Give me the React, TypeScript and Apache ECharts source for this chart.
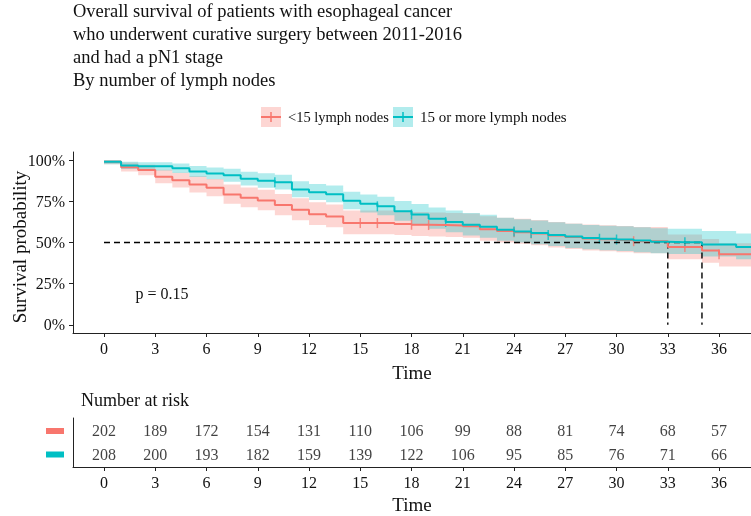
import { useEffect, useRef } from "react";
import * as echarts from "echarts";

// ---- data ----
const times = [0, 1, 2, 3, 4, 5, 6, 7, 8, 9, 10, 11, 12, 13, 14, 15, 16, 17, 18, 19, 20, 21, 22, 23, 24, 25, 26, 27, 28, 29, 30, 31, 32, 33, 34, 35, 36, 37, 37.9];

const redSurv = [99.0, 95.8, 94.0, 90.0, 87.8, 85.2, 83.2, 79.2, 77.2, 75.6, 72.8, 69.9, 67.2, 65.8, 61.8, 61.8, 61.8, 61.3, 60.8, 60.6, 60.3, 59.8, 58.0, 57.0, 56.3, 55.4, 54.2, 53.3, 52.5, 52.0, 51.5, 50.8, 50.8, 47.2, 47.2, 45.1, 42.9, 42.9, 42.9];
const redLower = [97.5, 93.1, 90.8, 86.0, 83.4, 80.4, 78.1, 73.6, 71.4, 69.6, 66.6, 63.5, 60.7, 59.2, 55.0, 55.0, 55.0, 54.5, 54.0, 53.7, 53.4, 52.9, 51.0, 50.0, 49.2, 48.3, 47.0, 46.1, 45.2, 44.7, 44.1, 43.4, 43.4, 39.8, 39.8, 37.7, 35.4, 35.4, 35.4];
const redUpper = [100, 98.6, 97.3, 94.2, 92.4, 90.3, 88.6, 85.2, 83.4, 82.0, 79.5, 76.9, 74.4, 73.1, 69.4, 69.4, 69.4, 69.0, 68.5, 68.3, 68.0, 67.6, 65.9, 65.0, 64.4, 63.6, 62.5, 61.6, 60.9, 60.5, 60.0, 59.4, 59.4, 54.8, 54.8, 52.2, 49.6, 49.6, 49.6];

const tealSurv = [99.0, 96.8, 96.3, 96.3, 95.1, 93.1, 92.0, 90.8, 88.7, 87.6, 86.6, 82.2, 80.5, 79.3, 75.3, 73.5, 72.0, 69.0, 67.0, 64.5, 62.5, 60.8, 59.5, 57.7, 56.7, 55.8, 54.6, 53.6, 52.8, 52.3, 51.8, 51.2, 50.5, 50.2, 50.2, 48.8, 48.8, 47.2, 47.2];
const tealLower = [97.5, 94.6, 93.8, 93.8, 92.3, 89.8, 88.4, 86.9, 84.6, 83.3, 82.2, 77.5, 75.8, 74.5, 70.2, 68.2, 66.5, 63.2, 61.0, 58.3, 56.2, 54.3, 52.9, 51.0, 50.0, 49.0, 47.8, 46.7, 45.9, 45.3, 44.8, 44.1, 43.4, 43.0, 43.0, 41.5, 41.5, 39.8, 39.8];
const tealUpper = [100, 99.0, 98.8, 98.8, 98.0, 96.5, 95.6, 94.8, 93.0, 92.1, 91.2, 87.2, 85.6, 84.6, 80.8, 79.2, 77.8, 75.2, 73.4, 71.2, 69.4, 67.9, 66.8, 65.1, 64.2, 63.4, 62.3, 61.4, 60.7, 60.2, 59.8, 59.3, 58.7, 58.4, 58.4, 57.0, 57.0, 55.4, 55.4];

const redCensor = [15, 16, 18, 19, 24, 25, 31, 34, 36];
const tealCensor = [10, 16, 18, 20, 24, 25, 26, 29, 30, 34];

const medianTimes = [33, 35];

const riskTimes = [0, 3, 6, 9, 12, 15, 18, 21, 24, 27, 30, 33, 36];
const redRisk = [202, 189, 172, 154, 131, 110, 106, 99, 88, 81, 74, 68, 57];
const tealRisk = [208, 200, 193, 182, 159, 139, 122, 106, 95, 85, 76, 71, 66];

const xTicks = [0, 3, 6, 9, 12, 15, 18, 21, 24, 27, 30, 33, 36];
const yTicks = [0, 25, 50, 75, 100];

const groupNames = ["<15 lymph nodes", "15 or more lymph nodes"];
const titleLines = [
  "Overall survival of patients with esophageal cancer",
  "who underwent curative surgery between 2011-2016",
  "and had a pN1 stage",
  "By number of lymph nodes",
];
const yTitle = "Survival probability";

// ---- styling ----
const RED = "#F8766D";
const TEAL = "#00BFC4";
const RED_BAND = "rgba(248,118,109,0.3)";
const TEAL_BAND = "rgba(0,191,196,0.3)";
const FONT = "'Liberation Serif', 'Times New Roman', serif";
const AXIS = "#222";
const XMIN = -1.815;
const XMAX = 37.87;

const pts = (ys: number[]) => times.map((t, i) => [t, ys[i]]);
const survAt = (ys: number[], t: number) => ys[times.indexOf(t)];

function bandSeries(lo: number[], hi: number[], fill: string) {
  return {
    type: "custom",
    data: [[0, 50]],
    clip: false,
    silent: true,
    renderItem: (_params: any, api: any) => {
      const n = times.length;
      const points: number[][] = [];
      for (let i = 0; i < n - 1; i++) {
        points.push(api.coord([times[i], hi[i]]));
        points.push(api.coord([times[i + 1], hi[i]]));
      }
      for (let i = n - 2; i >= 0; i--) {
        points.push(api.coord([times[i + 1], lo[i]]));
        points.push(api.coord([times[i], lo[i]]));
      }
      return { type: "polygon", shape: { points }, style: { fill } };
    },
  };
}

function xAxisCommon(gridIndex: number, nameGap: number) {
  return {
    gridIndex,
    type: "value",
    min: XMIN,
    max: XMAX,
    axisLine: { show: true, onZero: false, lineStyle: { color: AXIS, width: 1 } },
    axisTick: { show: true, customValues: xTicks, length: 4, lineStyle: { color: AXIS, width: 1 } },
    axisLabel: { customValues: xTicks, fontSize: 16, color: "#111", margin: 7, fontFamily: FONT },
    splitLine: { show: false },
    name: "Time",
    nameLocation: "middle",
    nameGap,
    nameTextStyle: { fontSize: 19, color: "#111", fontFamily: FONT },
  };
}

export default function App() {
  const ref = useRef<HTMLDivElement>(null);
  useEffect(() => {
    const chart = echarts.init(ref.current!, null, { renderer: "svg" });
    const option: any = {
      animation: false,
      textStyle: { fontFamily: FONT },
      grid: [
        { left: 73, top: 152, width: 678, height: 181, containLabel: false, outerBoundsMode: "none" },
        { left: 73, top: 418, width: 678, height: 49, containLabel: false, outerBoundsMode: "none" },
      ],
      xAxis: [xAxisCommon(0, 30), xAxisCommon(1, 28)],
      yAxis: [
        {
          gridIndex: 0,
          type: "value",
          min: -5,
          max: 105,
          axisLine: { show: true, onZero: false, lineStyle: { color: AXIS, width: 1 } },
          axisTick: { show: true, customValues: yTicks, length: 4, lineStyle: { color: AXIS, width: 1 } },
          axisLabel: { customValues: yTicks, formatter: (v: number) => v + "%", fontSize: 16, color: "#111", margin: 8, fontFamily: FONT },
          splitLine: { show: false },
        },
        {
          gridIndex: 1,
          type: "category",
          data: ["a", "b"],
          inverse: true,
          axisLine: { show: true, onZero: false, lineStyle: { color: AXIS, width: 1 } },
          axisTick: { show: false },
          axisLabel: { show: false },
          splitLine: { show: false },
        },
      ],
      series: [
        // confidence bands
        bandSeries(redLower, redUpper, RED_BAND),
        bandSeries(tealLower, tealUpper, TEAL_BAND),
        // median lines
        { type: "line", data: [[0, 50], [Math.max(...medianTimes), 50]], symbol: "none", lineStyle: { color: "#000", width: 1.4, type: [6, 4] } },
        ...medianTimes.map((m) => ({ type: "line", data: [[m, 50], [m, 0]], symbol: "none", lineStyle: { color: "#000", width: 1.4, type: [6, 4] } })),
        // survival curves
        { type: "line", step: "end", data: pts(redSurv), symbol: "none", lineStyle: { color: RED, width: 2 } },
        { type: "line", step: "end", data: pts(tealSurv), symbol: "none", lineStyle: { color: TEAL, width: 2 } },
        // censor marks
        { type: "scatter", data: redCensor.map((t) => [t, survAt(redSurv, t)]), symbol: "rect", symbolSize: [1.5, 10], itemStyle: { color: RED } },
        { type: "scatter", data: tealCensor.map((t) => [t, survAt(tealSurv, t)]), symbol: "rect", symbolSize: [1.5, 10], itemStyle: { color: TEAL } },
        // risk table
        ...[redRisk, tealRisk].map((arr, row) => ({
          type: "scatter",
          xAxisIndex: 1,
          yAxisIndex: 1,
          data: riskTimes.map((t, i) => [t, row, arr[i]]),
          symbolSize: 1,
          itemStyle: { color: "transparent" },
          label: { show: true, position: "inside", formatter: (p: any) => String(p.value[2]), fontSize: 16, color: "#111", fontFamily: FONT },
        })),
      ],
      graphic: [
        {
          type: "text",
          left: 73,
          top: -1,
          style: { text: titleLines.join("\n"), fontSize: 18.5, lineHeight: 23, fill: "#111", fontFamily: FONT },
        },
        // y-axis title
        { type: "text", x: 19, y: 247, rotation: Math.PI / 2, style: { text: yTitle, fontSize: 19, fill: "#111", fontFamily: FONT, align: "center", verticalAlign: "middle" } },
        // legend
        { type: "rect", shape: { x: 261, y: 107, width: 20, height: 20 }, style: { fill: RED_BAND } },
        { type: "line", shape: { x1: 261, y1: 117, x2: 281, y2: 117 }, style: { stroke: RED, lineWidth: 2 } },
        { type: "line", shape: { x1: 271, y1: 112, x2: 271, y2: 122 }, style: { stroke: RED, lineWidth: 1.5 } },
        { type: "text", x: 288, y: 117, style: { text: groupNames[0], fontSize: 14.5, fill: "#111", fontFamily: FONT, verticalAlign: "middle" } },
        { type: "rect", shape: { x: 393, y: 107, width: 20, height: 20 }, style: { fill: TEAL_BAND } },
        { type: "line", shape: { x1: 393, y1: 117, x2: 413, y2: 117 }, style: { stroke: TEAL, lineWidth: 2 } },
        { type: "line", shape: { x1: 403, y1: 112, x2: 403, y2: 122 }, style: { stroke: TEAL, lineWidth: 1.5 } },
        { type: "text", x: 420, y: 117, style: { text: groupNames[1], fontSize: 15, fill: "#111", fontFamily: FONT, verticalAlign: "middle" } },
        // p-value
        { type: "text", x: 162, y: 293, style: { text: "p = 0.15", fontSize: 16, fill: "#111", fontFamily: FONT, align: "center", verticalAlign: "middle" } },
        // risk table heading and keys
        { type: "text", x: 81, y: 400, style: { text: "Number at risk", fontSize: 18, fill: "#111", fontFamily: FONT, verticalAlign: "middle" } },
        { type: "rect", shape: { x: 46, y: 428, width: 18, height: 6 }, style: { fill: RED } },
        { type: "rect", shape: { x: 46, y: 451.5, width: 18, height: 6 }, style: { fill: TEAL } },
      ],
    };
    chart.setOption(option);
    return () => chart.dispose();
  }, []);
  return <div ref={ref} style={{ position: "fixed", left: 0, top: 0, width: 751, height: 516 }} />;
}
